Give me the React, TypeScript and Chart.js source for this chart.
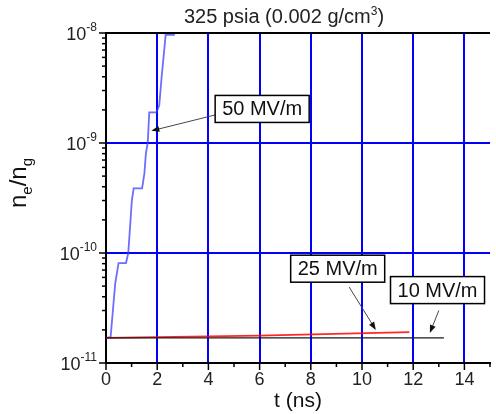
import React, { useEffect, useRef } from 'react';
import { Chart, registerables } from 'chart.js';
Chart.register(...registerables);

const FONT = '"Liberation Sans", Arial, Helvetica, sans-serif';

// ---- data ----
const blueT = [0, 0.18, 0.27, 0.36, 0.49, 0.78, 0.87, 0.95, 1.01, 1.08, 1.41, 1.5, 1.56, 1.63, 1.69, 1.97, 2.08, 2.18, 2.27, 2.33, 2.69];
const blueV = [1.69e-11, 1.72e-11, 3.0e-11, 5.3e-11, 8.1e-11, 8.1e-11, 1.0e-10, 1.87e-10, 3.0e-10, 3.87e-10, 3.87e-10, 5.3e-10, 8.1e-10, 1.0e-9, 1.9e-9, 1.9e-9, 2.2e-9, 4.15e-9, 6.8e-9, 9.6e-9, 9.6e-9];
const redT = [0, 6, 11.85];
const redV = [1.69e-11, 1.77e-11, 1.91e-11];
const blackT = [0, 13.2];
const blackV = [1.69e-11, 1.69e-11];

// axis ranges / ticks
const xMin = 0;
const xMax = 15;
const yMinExp = -11;
const yMaxExp = -8;

// texts
const titleMain = '325 psia (0.002 g/cm';
const titleSup = '3';
const titleEnd = ')';
const xTitle = 't (ns)';

// annotations (box centre and arrow ends in data units)
const annotLabels = ['50 MV/m', '25 MV/m', '10 MV/m'];
const annotBoxT = [6.1, 9.05, 12.95];
const annotBoxV = [2.04e-9, 7.2e-11, 4.6e-11];
const arrowFromT = [4.27, 9.5, 13.0];
const arrowFromV = [1.8e-9, 4.9e-11, 3.0e-11];
const arrowToT = [1.77, 10.54, 12.65];
const arrowToV = [1.29e-9, 2.0e-11, 1.87e-11];

const toXY = (t: number[], v: number[]) => t.map((x, i) => ({ x, y: v[i] }));
const isDecade = (v: number) => Math.abs(Math.log10(v) - Math.round(Math.log10(v))) < 1e-6;

const customPlugin = {
  id: 'customDraw',
  afterDatasetsDraw(chart: any) {
    const ctx = chart.ctx;
    const xs = chart.scales.x;
    const ys = chart.scales.y;
    ctx.save();
    ctx.font = `20px ${FONT}`;
    for (let i = 0; i < annotLabels.length; i++) {
      // arrow
      const x1 = xs.getPixelForValue(arrowFromT[i]);
      const y1 = ys.getPixelForValue(arrowFromV[i]);
      const x2 = xs.getPixelForValue(arrowToT[i]);
      const y2 = ys.getPixelForValue(arrowToV[i]);
      const ang = Math.atan2(y2 - y1, x2 - x1);
      const hl = 8, hw = 3;
      ctx.strokeStyle = '#444';
      ctx.fillStyle = '#111';
      ctx.lineWidth = 1;
      ctx.beginPath();
      ctx.moveTo(x1, y1);
      ctx.lineTo(x2 - Math.cos(ang) * hl * 0.8, y2 - Math.sin(ang) * hl * 0.8);
      ctx.stroke();
      ctx.beginPath();
      ctx.moveTo(x2, y2);
      ctx.lineTo(x2 - Math.cos(ang) * hl - Math.sin(ang) * hw, y2 - Math.sin(ang) * hl + Math.cos(ang) * hw);
      ctx.lineTo(x2 - Math.cos(ang) * hl + Math.sin(ang) * hw, y2 - Math.sin(ang) * hl - Math.cos(ang) * hw);
      ctx.closePath();
      ctx.fill();
      // box
      const cx = xs.getPixelForValue(annotBoxT[i]);
      const cy = ys.getPixelForValue(annotBoxV[i]);
      const w = ctx.measureText(annotLabels[i]).width + 14;
      const h = 27;
      ctx.fillStyle = '#fff';
      ctx.fillRect(cx - w / 2, cy - h / 2, w, h);
      ctx.strokeStyle = '#000';
      ctx.lineWidth = 1.5;
      ctx.strokeRect(cx - w / 2, cy - h / 2, w, h);
      ctx.fillStyle = '#111';
      ctx.textAlign = 'center';
      ctx.textBaseline = 'middle';
      ctx.fillText(annotLabels[i], cx, cy + 1);
    }
    ctx.restore();
  },
  afterDraw(chart: any) {
    const ctx = chart.ctx;
    const xs = chart.scales.x;
    const ys = chart.scales.y;
    const area = chart.chartArea;
    ctx.save();
    // top border
    ctx.strokeStyle = '#000';
    ctx.lineWidth = 2;
    ctx.beginPath();
    ctx.moveTo(area.left - 1, area.top);
    ctx.lineTo(area.right, area.top);
    ctx.stroke();
    // tick marks
    ctx.lineWidth = 1.5;
    xs.ticks.forEach((tk: any) => {
      const px = xs.getPixelForValue(tk.value);
      const len = tk.value % 2 === 0 ? 7 : 4;
      ctx.beginPath();
      ctx.moveTo(px, area.bottom);
      ctx.lineTo(px, area.bottom + len);
      ctx.stroke();
    });
    ys.ticks.forEach((tk: any) => {
      const py = ys.getPixelForValue(tk.value);
      const len = isDecade(tk.value) ? 7 : 4;
      ctx.beginPath();
      ctx.moveTo(area.left - len, py);
      ctx.lineTo(area.left, py);
      ctx.stroke();
    });
    // y tick labels with superscript exponents
    ctx.fillStyle = '#222';
    ctx.textAlign = 'left';
    ctx.textBaseline = 'alphabetic';
    ys.ticks.forEach((tk: any) => {
      if (!isDecade(tk.value)) return;
      const e = Math.round(Math.log10(tk.value));
      const py = ys.getPixelForValue(tk.value);
      const sup = String(e);
      ctx.font = `12px ${FONT}`;
      const sw = ctx.measureText(sup).width;
      ctx.font = `18px ${FONT}`;
      const mw = ctx.measureText('10').width;
      const right = area.left - 9;
      ctx.fillText('10', right - sw - mw, py + 6.5);
      ctx.font = `12px ${FONT}`;
      ctx.fillText(sup, right - sw, py - 2);
    });
    // y axis title n_e / n_g
    const parts = [
      { t: 'n', s: 24, d: 0 },
      { t: 'e', s: 15, d: 6 },
      { t: '/n', s: 24, d: 0 },
      { t: 'g', s: 15, d: 6 },
    ];
    let total = 0;
    parts.forEach((p) => { ctx.font = `${p.s}px ${FONT}`; total += ctx.measureText(p.t).width; });
    ctx.translate(26, 183 + total / 2);
    ctx.rotate(-Math.PI / 2);
    ctx.fillStyle = '#111';
    let ox = 0;
    parts.forEach((p) => {
      ctx.font = `${p.s}px ${FONT}`;
      ctx.fillText(p.t, ox, p.d);
      ox += ctx.measureText(p.t).width;
    });
    ctx.setTransform(1, 0, 0, 1, 0, 0);
    // chart title
    ctx.fillStyle = '#222';
    ctx.font = `20px ${FONT}`;
    const w1 = ctx.measureText(titleMain).width;
    const w3 = ctx.measureText(titleEnd).width;
    ctx.font = `12px ${FONT}`;
    const w2 = ctx.measureText(titleSup).width;
    const tw = w1 + w2 + w3;
    const tx = (area.left + area.right) / 2 - 14 - tw / 2;
    ctx.font = `20px ${FONT}`;
    ctx.fillText(titleMain, tx, 23);
    ctx.fillText(titleEnd, tx + w1 + w2, 23);
    ctx.font = `12px ${FONT}`;
    ctx.fillText(titleSup, tx + w1, 15);
    ctx.restore();
  },
};

export default function App() {
  const canvasRef = useRef<HTMLCanvasElement | null>(null);
  useEffect(() => {
    const canvas = canvasRef.current;
    if (!canvas) return;
    const chart = new Chart(canvas, {
      type: 'line',
      data: {
        datasets: [
          { data: toXY(blackT, blackV), borderColor: '#1a1a1a', borderWidth: 1.3, pointRadius: 0, tension: 0 },
          { data: toXY(redT, redV), borderColor: 'rgba(255,0,0,0.85)', borderWidth: 1.8, pointRadius: 0, tension: 0 },
          { data: toXY(blueT, blueV), borderColor: 'rgba(60,60,255,0.75)', borderWidth: 1.8, pointRadius: 0, tension: 0 },
        ],
      },
      options: {
        responsive: false,
        animation: false,
        events: [],
        layout: { padding: { top: 33, left: 0, right: 0, bottom: 0 } },
        plugins: { legend: { display: false }, tooltip: { enabled: false }, title: { display: false } },
        scales: {
          x: {
            type: 'linear',
            min: xMin,
            max: xMax,
            afterFit: (s: any) => { s.height = 51; },
            border: { display: true, color: '#000', width: 2 },
            grid: {
              drawTicks: false,
              lineWidth: 2,
              color: (c: any) => (c.tick && c.tick.value > 0 && c.tick.value % 2 === 0 ? '#0000ff' : 'rgba(0,0,0,0)'),
            },
            ticks: {
              stepSize: 1,
              autoSkip: false,
              maxRotation: 0,
              padding: 6,
              color: '#222',
              font: { size: 18, family: FONT },
              callback: (v: any) => (Number(v) % 2 === 0 ? String(v) : ''),
            },
            title: { display: true, text: xTitle, color: '#111', font: { size: 21, family: FONT }, padding: 0 },
          },
          y: {
            type: 'logarithmic',
            min: Math.pow(10, yMinExp),
            max: Math.pow(10, yMaxExp),
            afterFit: (s: any) => { s.width = 106; },
            afterBuildTicks: (s: any) => {
              const t: any[] = [];
              for (let e = yMinExp; e < yMaxExp; e++) {
                for (let m = 1; m < 10; m++) t.push({ value: m * Math.pow(10, e) });
              }
              t.push({ value: Math.pow(10, yMaxExp) });
              s.ticks = t;
            },
            border: { display: true, color: '#000', width: 2 },
            grid: {
              drawTicks: false,
              lineWidth: 2,
              color: (c: any) => {
                const v = c.tick ? c.tick.value : 0;
                return isDecade(v) && v > 1.5 * Math.pow(10, yMinExp) && v < 0.5 * Math.pow(10, yMaxExp) ? '#0000ff' : 'rgba(0,0,0,0)';
              },
            },
            ticks: { display: false },
          },
        },
      },
      plugins: [customPlugin],
    } as any);
    return () => chart.destroy();
  }, []);
  return (
    <div style={{ position: 'absolute', left: 0, top: 0, width: 496, height: 414, background: '#fff' }}>
      <canvas ref={canvasRef} width={496} height={414} style={{ display: 'block' }} />
    </div>
  );
}
